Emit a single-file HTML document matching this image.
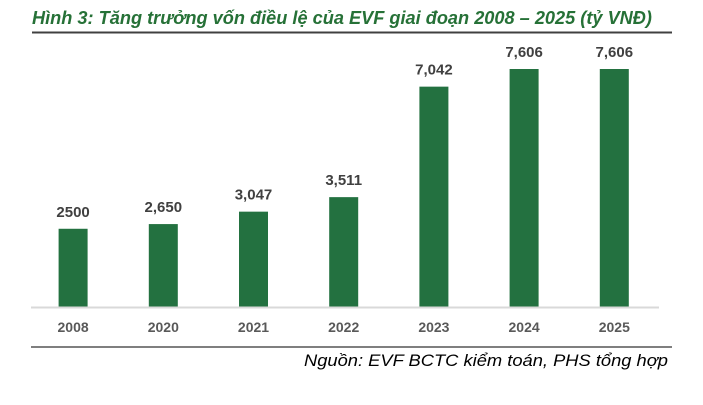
<!DOCTYPE html>
<html><head><meta charset="utf-8"><style>
body{margin:0;background:#fff;width:703px;height:400px;overflow:hidden;font-family:"Liberation Sans",sans-serif}
</style></head><body>
<svg width="703" height="400">
<text x="32" y="24" font-size="18" font-weight="bold" font-style="italic" fill="#267137" textLength="620" lengthAdjust="spacingAndGlyphs">Hình 3: Tăng trưởng vốn điều lệ của EVF giai đoạn 2008 – 2025 (tỷ VNĐ)</text>
<line x1="32" y1="32.5" x2="672" y2="32.5" stroke="#404040" stroke-width="2"/>
<g id="plot"></g>
<line x1="31" y1="307.5" x2="659" y2="307.5" stroke="#d9d9d9" stroke-width="2"/>
<line x1="31" y1="347" x2="672" y2="347" stroke="#7f7f7f" stroke-width="2"/>
<text x="668" y="366" text-anchor="end" font-size="17" font-style="italic" fill="#000" textLength="364" lengthAdjust="spacingAndGlyphs">Nguồn:  EVF BCTC kiểm toán, PHS tổng hợp</text>
</svg>
<script>
const categories=["2008","2020","2021","2022","2023","2024","2025"];
const values=[2500,2650,3047,3511,7042,7606,7606];
const valueLabels=["2500","2,650","3,047","3,511","7,042","7,606","7,606"];
const g=document.getElementById('plot');
const ns="http://www.w3.org/2000/svg";
const x0=28,bandW=90.2,baseY=307,maxV=7606,maxH=238,barW=29;
function xc(i){return x0+bandW*(i+0.5);}
function yv(v){return baseY-v/maxV*maxH;}
categories.forEach((c,i)=>{
  const r=document.createElementNS(ns,'rect');
  r.setAttribute('x',xc(i)-barW/2);r.setAttribute('y',yv(values[i]));
  r.setAttribute('width',barW);r.setAttribute('height',baseY-yv(values[i]));
  r.setAttribute('fill','#237140');
  
  
  g.appendChild(r);
  const t=document.createElementNS(ns,'text');
  t.setAttribute('x',xc(i));t.setAttribute('y',yv(values[i])-12);
  t.setAttribute('text-anchor','middle');t.setAttribute('font-size','15');
  t.setAttribute('font-weight','bold');t.setAttribute('fill','#404040');
  t.textContent=valueLabels[i];
  
  
  g.appendChild(t);
  const l=document.createElementNS(ns,'text');
  l.setAttribute('x',xc(i));l.setAttribute('y',332);
  l.setAttribute('text-anchor','middle');l.setAttribute('font-size','14');
  l.setAttribute('font-weight','bold');l.setAttribute('fill','#595959');
  l.textContent=c;
  
  
  g.appendChild(l);
});
</script>
</body></html>
